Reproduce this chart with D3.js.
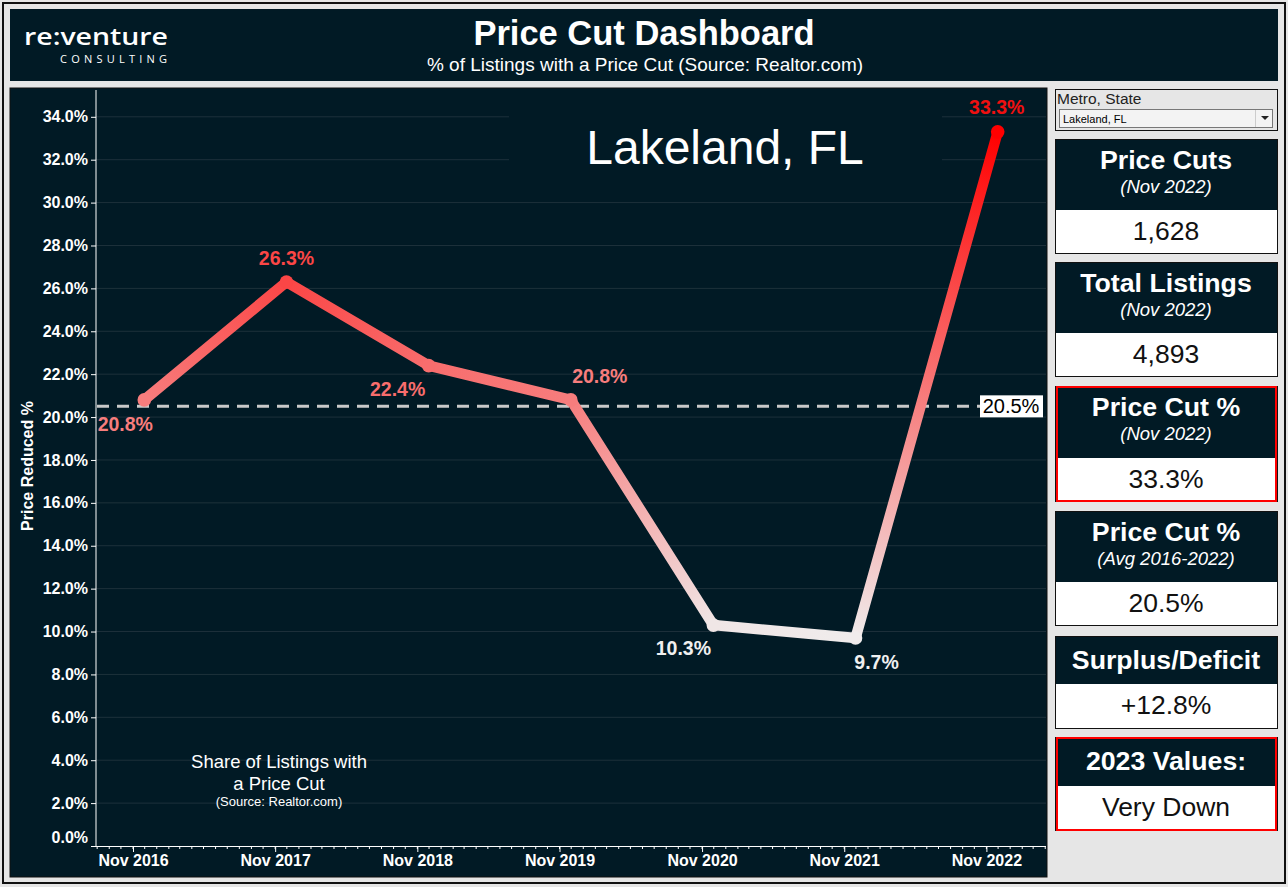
<!DOCTYPE html>
<html><head><meta charset="utf-8">
<script src="https://cdn.jsdelivr.net/npm/d3@7"></script>
<style>
html,body{margin:0;padding:0;background:#e6e6e6;}
svg{display:block;font-family:"Liberation Sans",Arial,sans-serif;}
</style></head>
<body><svg id="c" width="1288" height="887"></svg>
<script>
// ---- data ----
const metro = "Lakeland, FL";
const pointDates = ["2016-11-30","2017-11-30","2018-11-30","2019-11-30","2020-11-30","2021-11-30","2022-11-30"];
const priceCutPct = [20.8, 26.3, 22.4, 20.8, 10.3, 9.7, 33.3];
const averagePct = 20.5;
const xTickDates = ["2016-11-01","2017-11-01","2018-11-01","2019-11-01","2020-11-01","2021-11-01","2022-11-01"];
const xTickLabels = ["Nov 2016","Nov 2017","Nov 2018","Nov 2019","Nov 2020","Nov 2021","Nov 2022"];
const yTicks = [0,2,4,6,8,10,12,14,16,18,20,22,24,26,28,30,32,34];
const cardTitles = ["Price Cuts","Total Listings","Price Cut %","Price Cut %","Surplus/Deficit","2023 Values:"];
const cardSubtitles = ["(Nov 2022)","(Nov 2022)","(Nov 2022)","(Avg 2016-2022)","",""];
const cardValues = ["1,628","4,893","33.3%","20.5%","+12.8%","Very Down"];
const cardHighlight = [false,false,true,false,false,true];

// ---- layout/style ----
const BG = "#011a25";
const svg = d3.select("#c");
const parse = d3.timeParse("%Y-%m-%d");

svg.append("rect").attr("x",0).attr("y",0).attr("width",1288).attr("height",887).attr("fill","#e6e6e6");
svg.append("rect").attr("x",3).attr("y",3).attr("width",1282).attr("height",880).attr("fill","none").attr("stroke","#111").attr("stroke-width",2);

// header
svg.append("rect").attr("x",10).attr("y",9).attr("width",1268).attr("height",72).attr("fill",BG);
svg.append("text").attr("x",644).attr("y",45).attr("text-anchor","middle").attr("fill","#fff")
  .attr("font-size",34.5).attr("font-weight","bold").text("Price Cut Dashboard");
svg.append("text").attr("x",645).attr("y",71).attr("text-anchor","middle").attr("fill","#fff")
  .attr("font-size",19).text("% of Listings with a Price Cut (Source: Realtor.com)");
svg.append("text").attr("x",24).attr("y",45).attr("fill","#fff").attr("font-family","'Open Sans',sans-serif")
  .attr("font-size",24).attr("font-weight",600).attr("textLength",144).attr("lengthAdjust","spacingAndGlyphs").text("re:venture");
svg.append("text").attr("x",60).attr("y",63).attr("fill","#fff").attr("font-family","'Open Sans',sans-serif")
  .attr("font-size",11).attr("textLength",107).text("CONSULTING");

// chart panel
svg.append("rect").attr("x",10).attr("y",88).attr("width",1037).attr("height",789).attr("fill",BG).attr("stroke","#111").attr("stroke-width",1);

const x = d3.scaleTime().domain([parse("2016-07-29"), parse("2023-04-03")]).range([96,1046]);
const y = d3.scaleLinear().domain([0,35.25]).range([846,90]);
const color = d3.scaleLinear().domain([9.7,33.3]).range(["#f0ecec","#ff0000"]);

const g = svg.append("g");
// gridlines
g.selectAll(".grid").data(yTicks.filter(d=>d>0)).join("line")
  .attr("x1",96).attr("x2",1046).attr("y1",d=>y(d)).attr("y2",d=>y(d))
  .attr("stroke","#1d313b").attr("stroke-width",1);

// title box
g.append("rect").attr("x",509).attr("y",92).attr("width",433).attr("height",93).attr("fill",BG);
g.append("text").attr("x",725).attr("y",164).attr("text-anchor","middle").attr("fill","#fff").attr("font-size",48).text(metro);

// y axis
const yAxis = g.append("g").attr("transform","translate(96,0)")
  .call(d3.axisLeft(y).tickValues(yTicks).tickSize(5).tickFormat(d=>d3.format(".1f")(d)+"%"));
yAxis.select(".domain").attr("stroke","#fff").attr("d","M0,90V846");
yAxis.selectAll(".tick line").attr("stroke","#fff");
yAxis.selectAll(".tick text").attr("fill","#fff").attr("font-size",16).attr("font-weight","bold")
  .attr("font-family","'Liberation Sans',Arial,sans-serif").attr("x",-8);
yAxis.selectAll(".tick").filter(d=>d===0).select("text").attr("dy","-0.25em");

// x axis
const minorTicks = d3.timeMonth.range(parse("2016-08-01"), parse("2023-04-02"));
g.append("g").attr("transform","translate(0,846)").selectAll("line").data(minorTicks).join("line")
  .attr("x1",d=>x(d)).attr("x2",d=>x(d)).attr("y1",0).attr("y2",3).attr("stroke","#fff");
const xAxis = g.append("g").attr("transform","translate(0,846)")
  .call(d3.axisBottom(x).tickValues(xTickDates.map(parse)).tickSize(6).tickFormat((d,i)=>xTickLabels[i]));
xAxis.select(".domain").attr("stroke","#fff").attr("d","M96,0.5H1046");
xAxis.selectAll(".tick line").attr("stroke","#fff");
xAxis.selectAll(".tick text").attr("fill","#fff").attr("font-size",16).attr("font-weight","bold")
  .attr("font-family","'Liberation Sans',Arial,sans-serif").attr("y",9);

// y title
g.append("text").attr("transform","translate(33,466) rotate(-90)").attr("text-anchor","middle")
  .attr("fill","#fff").attr("font-size",16).attr("font-weight","bold").text("Price Reduced %");

// note
const note = g.append("text").attr("text-anchor","middle").attr("fill","#fff");
note.append("tspan").attr("x",279).attr("y",768).attr("font-size",18.5).text("Share of Listings with");
note.append("tspan").attr("x",279).attr("y",790).attr("font-size",18.5).text("a Price Cut");
note.append("tspan").attr("x",279).attr("y",806).attr("font-size",13).text("(Source: Realtor.com)");

// average line
g.append("line").attr("x1",97).attr("x2",980).attr("y1",y(averagePct)).attr("y2",y(averagePct))
  .attr("stroke","#c9c9c9").attr("stroke-width",3).attr("stroke-dasharray","12,8");

// line segments with gradient
const pts = pointDates.map((d,i)=>({x:x(parse(d)), y:y(priceCutPct[i]), v:priceCutPct[i]}));
const defs = svg.append("defs");
for(let i=0;i<pts.length-1;i++){
  const a=pts[i], b=pts[i+1];
  const gr = defs.append("linearGradient").attr("id","seg"+i).attr("gradientUnits","userSpaceOnUse")
    .attr("x1",a.x).attr("y1",a.y).attr("x2",b.x).attr("y2",b.y);
  gr.append("stop").attr("offset",0).attr("stop-color",color(a.v));
  gr.append("stop").attr("offset",1).attr("stop-color",color(b.v));
}
g.selectAll(".seg").data(pts.slice(0,-1)).join("path")
  .attr("d",(d,i)=>d3.line()([[d.x,d.y],[pts[i+1].x,pts[i+1].y]]))
  .attr("stroke",(d,i)=>`url(#seg${i})`).attr("stroke-width",10.5).attr("stroke-linecap","round").attr("fill","none");
g.selectAll(".pt").data(pts).join("circle")
  .attr("cx",d=>d.x).attr("cy",d=>d.y).attr("r",6.8).attr("fill",d=>color(d.v));

// value labels (placement offsets)
const labelDx = [-19, 0, -31, 29, -30, 21, -1];
const labelDy = [31, -17, 30, -17, 30, 31, -18];
g.selectAll(".lbl").data(pts).join("text")
  .attr("x",(d,i)=>d.x+labelDx[i]).attr("y",(d,i)=>d.y+labelDy[i]).attr("text-anchor","middle")
  .attr("font-size",19.5).attr("font-weight","bold")
  .attr("fill",d=> d.v<15 ? "#f0f0f0" : (d.v>30 ? "#f01010" : color(d.v)))
  .text(d=>d3.format(".1f")(d.v)+"%");

// avg label
g.append("rect").attr("x",980).attr("y",y(averagePct)-11).attr("width",63).attr("height",22).attr("fill","#fff");
g.append("text").attr("x",1011).attr("y",y(averagePct)+7).attr("text-anchor","middle").attr("fill","#000")
  .attr("font-size",20).text(d3.format(".1f")(averagePct)+"%");

// ---- side panel ----
const sp = svg.append("g");
sp.append("rect").attr("x",1055.5).attr("y",89.5).attr("width",222).attr("height",41).attr("fill","#e6e6e6").attr("stroke","#111");
sp.append("text").attr("x",1057).attr("y",104).attr("font-size",15.5).attr("fill","#222").text("Metro, State");
sp.append("rect").attr("x",1059.5).attr("y",109.5).attr("width",213).attr("height",18).attr("fill","#f3f3f3").attr("stroke","#777");
sp.append("text").attr("x",1063).attr("y",123).attr("font-size",11).attr("fill","#000").text(metro);
sp.append("line").attr("x1",1255.5).attr("x2",1255.5).attr("y1",110).attr("y2",127).attr("stroke","#ccc");
sp.append("path").attr("d","M1261,116H1269L1265,120Z").attr("fill","#222");

const cardTops = [139,262,386,511,636,737];
const headerH = [70,70,71,70,47,48];
const totalH = [114,114,115,114,92,93];
cardTitles.forEach((t,i)=>{
  const top=cardTops[i], hh=headerH[i], th=totalH[i];
  const c = sp.append("g");
  c.append("rect").attr("x",1055.5).attr("y",top+0.5).attr("width",222).attr("height",th).attr("fill","#fff").attr("stroke","#111");
  c.append("rect").attr("x",1056).attr("y",top+1).attr("width",221).attr("height",hh).attr("fill",BG);
  if(cardHighlight[i]) c.append("rect").attr("x",1057).attr("y",top+1).attr("width",219).attr("height",th-1)
      .attr("fill","none").attr("stroke","#ff0000").attr("stroke-width",2);
  const sub = cardSubtitles[i];
  c.append("text").attr("x",1166).attr("y", sub ? top+29.5 : top+32.5).attr("text-anchor","middle").attr("fill","#fff")
    .attr("font-size",26.7).attr("font-weight","bold").text(t);
  if(sub) c.append("text").attr("x",1166).attr("y",top+54).attr("text-anchor","middle").attr("fill","#fff")
    .attr("font-size",18.5).attr("font-style","italic").text(sub);
  c.append("text").attr("x",1166).attr("y",top+hh+31).attr("text-anchor","middle").attr("fill","#111")
    .attr("font-size",26.5).text(cardValues[i]);
});
</script></body></html>
